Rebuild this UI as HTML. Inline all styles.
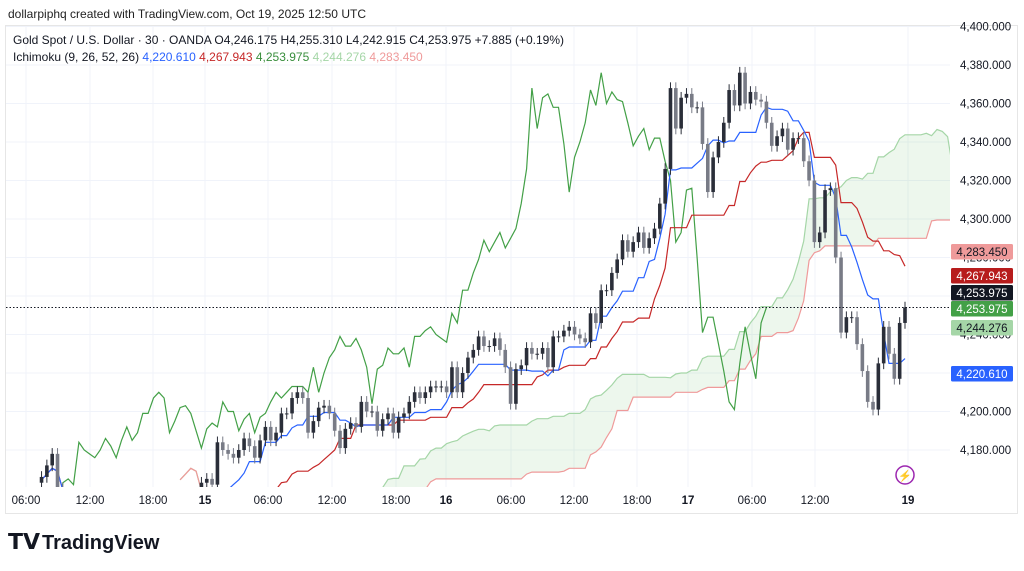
<!DOCTYPE html>
<html><head><meta charset="utf-8"><style>
body{margin:0;background:#fff;width:1024px;height:571px;overflow:hidden;font-family:"Liberation Sans",sans-serif}
svg{position:absolute;left:0;top:0}
</style></head><body>
<svg id="c" width="1024" height="571">
<text x="8" y="18" font-size="12" fill="#222">dollarpiphq created with TradingView.com, Oct 19, 2025 12:50 UTC</text>
<rect x="5.5" y="25.5" width="1012" height="488" fill="none" stroke="#e6e6e6"/>
<g id="grid"></g>
<defs><clipPath id="pc"><rect x="6" y="26" width="944" height="461"/></clipPath></defs>
<g id="plot" clip-path="url(#pc)"></g>
<g id="axis"></g>
<g id="taxis"></g>
<text x="13" y="44" font-size="12" fill="#131722">Gold Spot / U.S. Dollar · 30 · OANDA  O4,246.175  H4,255.310  L4,242.915  C4,253.975  +7.885 (+0.19%)</text>
<text x="13" y="61" font-size="12" fill="#131722">Ichimoku (9, 26, 52, 26) <tspan fill="#2962ff">4,220.610</tspan> <tspan fill="#c62828">4,267.943</tspan> <tspan fill="#388e3c">4,253.975</tspan> <tspan fill="#a5d6a7">4,244.276</tspan> <tspan fill="#ef9a9a">4,283.450</tspan></text>
<g><circle cx="905" cy="475" r="9" fill="none" stroke="#9c27b0" stroke-width="1.5"/><text x="905" y="479.5" font-size="11" fill="#9c27b0" text-anchor="middle">⚡</text></g>
<g><text x="8" y="549" font-size="22" font-weight="bold" fill="#131722">𝗧𝗩</text><text x="42" y="549" font-size="20" font-weight="bold" fill="#131722">TradingView</text></g>
</svg>
<script>
const closes=[4166,4172,4178,4160,
4140,4132,4128,4125,4130,4132,4127,4123,4120,4125,4130,4128,4132,4135,4130,4127,4130,4133,4135,4130,4128,4132,4135,4140,4145,4150,
4163,4165,4162,4184,4180,4178,4176,4180,4186,4182,4176,4185,4192,4185,4189,4199,4199,4207,4210,4207,4189,4195,4202,4203,4199,4190,4181,4191,4194,4192,
4205,4200,4200,4190,4196,4199,4189,4197,4199,4205,4210,4207,4210,4213,4213,4213,4210,4223,4210,4220,4228,4232,4239,4234,4234,4238,4232,4223,4204,4222,
4224,4233,4230,4230,4233,4223,4239,4239,4242,4244,4240,4238,4236,4251,4246,4263,4263,4272,4279,4289,4283,4288,4293,4285,4290,4295,4308,4326,4368,4347,
4363,4365,4358,4358,4339,4314,4332,4340,4350,4367,4359,4376,4360,4366,4362,4361,4350,4338,4343,4347,4336,4342,4342,4330,4320,4288,4293,4315,4316,4280,
4241,4249,4249,4235,4221,4205,4201,4225,4244,4230,4217,4246,4254];
const priceTicks=[4180,4200,4220,4240,4260,4280,4300,4320,4340,4360,4380,4400];
const timeLabels=["06:00","12:00","18:00","15","06:00","12:00","18:00","16","06:00","12:00","18:00","17","06:00","12:00","19"];
const timeLabelX=[26,90,153,205,268,332,396,446,511,574,637,688,752,815,908];
const boldTime=[3,7,11,14];
const axisBoxes=[["4,283.450","#ef9a9a","#131722",244],["4,267.943","#b71c1c","#fff",268],["4,253.975","#131722","#fff",285],["4,253.975","#43a047","#fff",301],["4,244.276","#a5d6a7","#131722",320],["4,220.610","#2962ff","#fff",366]];
const NS="http://www.w3.org/2000/svg";
const N=closes.length, BW=5.33;
const X=i=>905-(N-1-i)*BW;
const Y=p=>450-(p-4180)*1.925;
function mk(t,a,parent){const e=document.createElementNS(NS,t);for(const k in a)e.setAttribute(k,a[k]);parent.appendChild(e);return e;}
const opens=closes.map((c,i)=>i?closes[i-1]:c-3);
const highs=closes.map((c,i)=>Math.max(c,opens[i])+3);
const lows=closes.map((c,i)=>Math.min(c,opens[i])-3);
function mid(i,n){let h=-1e9,l=1e9;for(let k=Math.max(0,i-n+1);k<=i;k++){h=Math.max(h,highs[k]);l=Math.min(l,lows[k]);}return (h+l)/2;}
const tenkan=closes.map((c,i)=>mid(i,9)), kijun=closes.map((c,i)=>mid(i,26));
const spanA=closes.map((c,i)=>(tenkan[i]+kijun[i])/2), spanB=closes.map((c,i)=>mid(i,52));
const grid=document.getElementById('grid'),plot=document.getElementById('plot'),axis=document.getElementById('axis'),taxis=document.getElementById('taxis');
priceTicks.forEach(p=>{const l=mk('line',{x1:6,x2:950,y1:Y(p),y2:Y(p),stroke:'#f0f3fa'},grid);
 const t=mk('text',{x:960,y:Y(p)+4,'font-size':11.5,fill:'#131722'},axis);t.textContent=p.toLocaleString('en-US',{minimumFractionDigits:3});});
timeLabels.forEach((s,k)=>{const l=mk('line',{x1:timeLabelX[k],x2:timeLabelX[k],y1:26,y2:487,stroke:'#f0f3fa'},grid);
 const t=mk('text',{x:timeLabelX[k],y:504,'font-size':11.5,fill:'#131722','text-anchor':'middle','font-weight':boldTime.includes(k)?'bold':'normal'},taxis);t.textContent=s;});
const sx=i=>X(i+26);
let poly='';for(let i=0;i<N;i++)poly+=sx(i)+','+Y(spanA[i])+' ';for(let i=N-1;i>=0;i--)poly+=sx(i)+','+Y(spanB[i])+' ';
const cl=mk('polygon',{points:poly,fill:'rgba(76,175,80,0.1)'},plot);
function line(arr,xf,color,name,start){let d='';for(let i=start||0;i<N;i++)d+=(d?'L':'M')+xf(i).toFixed(1)+','+Y(arr[i]).toFixed(1);const p=mk('path',{d:d,fill:'none',stroke:color,'stroke-width':1.2},plot);}
line(spanA,sx,'#a5d6a7','leading-span-a');
line(spanB,sx,'#ef9a9a','leading-span-b');
line(closes,i=>X(i-26),'#43a047','lagging-span');
line(kijun,X,'#c62828','base-line');
line(tenkan,X,'#2962ff','conversion-line');
for(let i=0;i<N;i++){const up=closes[i]>=opens[i],col=up?'#2a2e39':'#787b86';const g=mk('g',{},plot);
 mk('line',{x1:X(i),x2:X(i),y1:Y(highs[i]),y2:Y(lows[i]),stroke:col},g);
 const t=Y(Math.max(opens[i],closes[i])),b=Y(Math.min(opens[i],closes[i]));mk('rect',{x:X(i)-1.8,y:t,width:3.6,height:Math.max(1,b-t),fill:col},g);}
const cur=mk('line',{x1:6,x2:950,y1:Y(closes[N-1]),y2:Y(closes[N-1]),stroke:'#131722','stroke-dasharray':'1.5,2'},plot);
axisBoxes.forEach(b=>{const g=mk('g',{},axis);
 mk('rect',{x:951,y:b[3],width:62,height:15.5,fill:b[1],rx:1.5},g);const t=mk('text',{x:982,y:b[3]+12,'font-size':11.5,fill:b[2],'text-anchor':'middle'},g);t.textContent=b[0];});
</script>
</body></html>
